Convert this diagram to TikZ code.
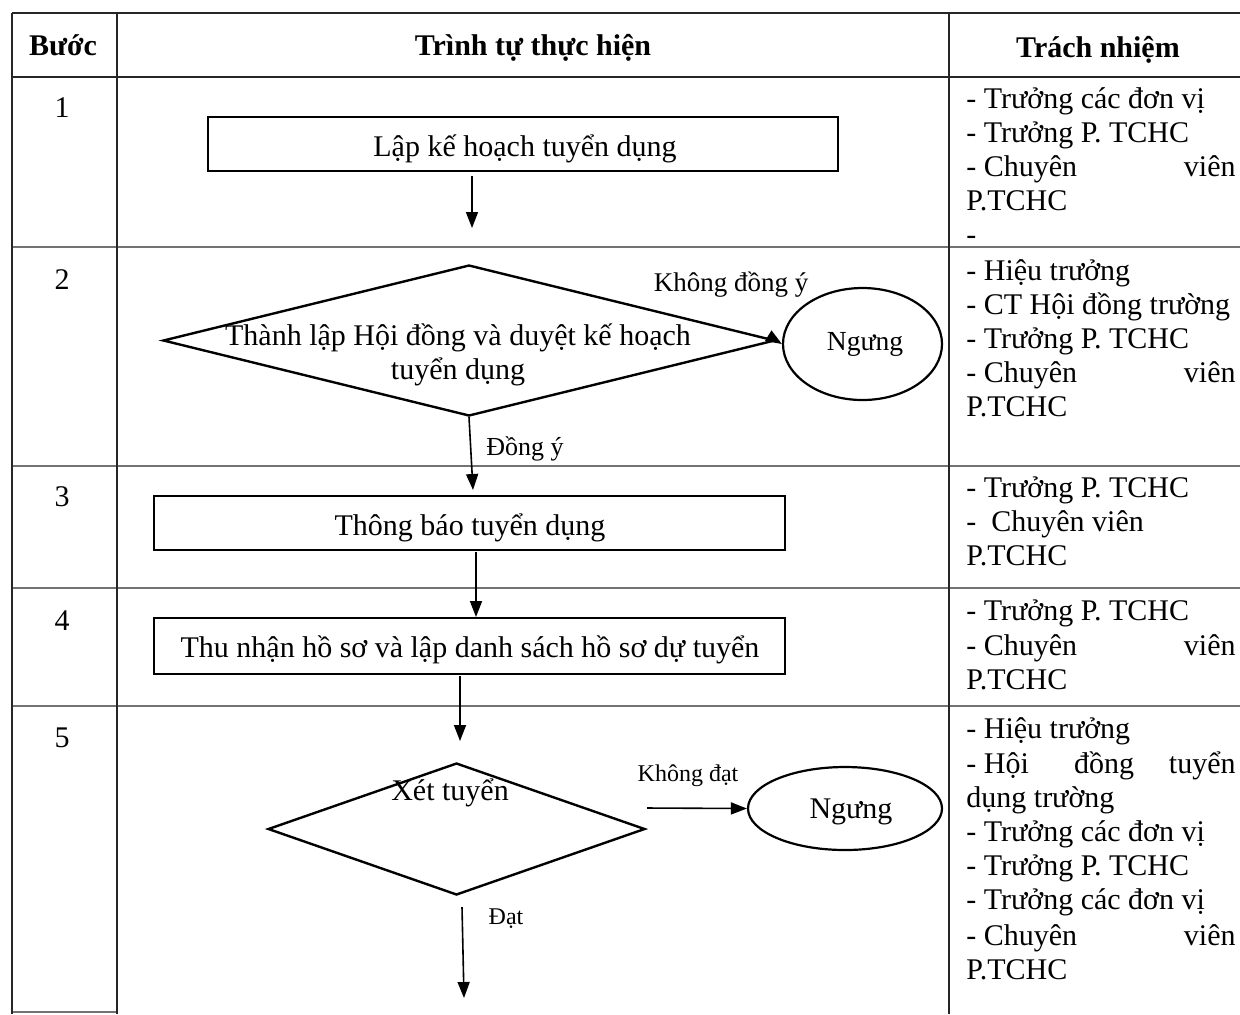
\documentclass[tikz,border=0pt]{standalone}
\usepackage{fontspec}
\setmainfont{Liberation Serif}
\usetikzlibrary{arrows.meta,shapes.geometric}
\begin{document}
\begin{tikzpicture}[x=0.5pt,y=-0.5pt,
  tline/.style={line width=1pt,black!85},
  rline/.style={line width=1pt,black!55},
  procbox/.style={draw,line width=1.4pt,inner sep=0pt},
  dia/.style={draw,diamond,line width=1.2pt,inner sep=0pt},
  stopnode/.style={draw,ellipse,line width=1.1pt,inner sep=0pt},
  arr/.style={-{Triangle[length=8pt,width=6pt]},line width=0.8pt},
  mtext/.style={inner sep=0pt,font=\fontsize{15}{17}\selectfont},
  btext/.style={anchor=base,inner sep=0pt,font=\fontsize{15}{17}\selectfont},
  hdr/.style={anchor=base,inner sep=0pt,font=\fontsize{15}{17}\selectfont\bfseries},
  lbl/.style={anchor=base,inner sep=0pt,font=\fontsize{13.5}{16}\selectfont},
  slbl/.style={anchor=base,inner sep=0pt,font=\fontsize{12}{14}\selectfont},
  resp/.style={anchor=base west,inner sep=0pt,font=\fontsize{15}{17}\selectfont},
  respr/.style={anchor=base east,inner sep=0pt,font=\fontsize{15}{17}\selectfont},
  respc/.style={anchor=base,inner sep=0pt,font=\fontsize{15}{17}\selectfont}
]
\useasboundingbox (0,0) rectangle (1240,1014);
\fill[white] (0,0) rectangle (1240,1014);

% table
\draw[tline] (12,13) -- (1240,13);
\draw[tline] (12,77) -- (1240,77);
\draw[rline] (12,247) -- (1240,247);
\draw[rline] (12,466) -- (1240,466);
\draw[rline] (12,588) -- (1240,588);
\draw[rline] (12,706) -- (1240,706);
\draw[rline] (12,1012) -- (117,1012);
\draw[tline] (12,13) -- (12,1014);
\draw[tline] (117,13) -- (117,1014);
\draw[tline] (949,13) -- (949,1014);

% header
\node[hdr] (h1) at (63,55) {Bước};
\node[hdr] (h2) at (533,55) {Trình tự thực hiện};
\node[hdr] (h3) at (1098,57) {Trách nhiệm};

% step numbers
\node[mtext] (n1) at (62,108) {1};
\node[mtext] (n2) at (62,280) {2};
\node[mtext] (n3) at (62,497) {3};
\node[mtext] (n4) at (62,621) {4};
\node[mtext] (n5) at (62,738) {5};

% step 1
\node[procbox,minimum width=315pt,minimum height=27pt] (box1) at (523,144) {};
\node[btext] (box1t) at (525,156) {Lập kế hoạch tuyển dụng};
\coordinate (a1s) at (472,176);
\coordinate (a1e) at (472,228);
\draw[arr] (a1s) -- (a1e);

% step 2
\node[dia,minimum width=306pt,minimum height=75.5pt] (d2) at (469,340.5) {};
\node[btext] (d2t1) at (458,345) {Thành lập Hội đồng và duyệt kế hoạch};
\node[btext] (d2t2) at (458,379) {tuyển dụng};
\node[stopnode,minimum width=79.5pt,minimum height=56pt] (e2) at (862.5,344) {};
\node[lbl,font=\fontsize{13.8}{16}\selectfont] (e2t) at (865,350) {Ngưng};
\draw[arr] (d2.east) -- (e2.west);
\node[lbl] (l2a) at (731,291) {Không đồng ý};
\coordinate (a2e) at (473,490);
\draw[arr] (d2.south) -- (a2e);
\node[lbl,font=\fontsize{13}{15}\selectfont] (l2b) at (525,455) {Đồng ý};

% step 3
\node[procbox,minimum width=315.5pt,minimum height=27pt] (box3) at (469.5,523) {};
\node[btext] (box3t) at (470,535) {Thông báo tuyển dụng};
\coordinate (a3s) at (476,552);
\coordinate (a3e) at (476,617);
\draw[arr] (a3s) -- (a3e);

% step 4
\node[procbox,minimum width=315.5pt,minimum height=28pt] (box4) at (469.5,646) {};
\node[btext] (box4t) at (470,657) {Thu nhận hồ sơ và lập danh sách hồ sơ dự tuyển};
\coordinate (a4s) at (460,676);
\coordinate (a4e) at (460,741);
\draw[arr] (a4s) -- (a4e);

% step 5
\node[dia,minimum width=188.5pt,minimum height=66pt] (d5) at (456.5,829) {};
\node[btext] (d5t) at (450,800) {Xét tuyển};
\node[stopnode,minimum width=97pt,minimum height=41.5pt] (e5) at (845,808.5) {};
\node[btext] (e5t) at (851,818) {Ngưng};
\coordinate (a5s) at (647,808);
\draw[arr] (a5s) -- (e5.west);
\node[slbl] (l5a) at (688,781) {Không đạt};
\coordinate (a6s) at (462,907);
\coordinate (a6e) at (464,998);
\draw[arr] (a6s) -- (a6e);
\node[slbl] (l5b) at (506,924) {Đạt};

% responsibilities
\node[resp] (r11) at (966,108) {- Trưởng các đơn vị};
\node[resp] (r12) at (966,142) {- Trưởng P. TCHC};
\node[resp] (r13) at (966,176) {- Chuyên};
\node[respr] (r13b) at (1236,176) {viên};
\node[resp] (r14) at (966,210) {P.TCHC};
\node[resp] (r15) at (966,244) {-};

\node[resp] (r21) at (966,280) {- Hiệu trưởng};
\node[resp] (r22) at (966,314) {- CT Hội đồng trường};
\node[resp] (r23) at (966,348) {- Trưởng P. TCHC};
\node[resp] (r24) at (966,382) {- Chuyên};
\node[respr] (r24b) at (1236,382) {viên};
\node[resp] (r25) at (966,416) {P.TCHC};

\node[resp] (r31) at (966,497) {- Trưởng P. TCHC};
\node[resp] (r32) at (966,531) {-\ \ Chuyên viên};
\node[resp] (r33) at (966,565) {P.TCHC};

\node[resp] (r41) at (966,620) {- Trưởng P. TCHC};
\node[resp] (r42) at (966,655) {- Chuyên};
\node[respr] (r42b) at (1236,655) {viên};
\node[resp] (r43) at (966,689) {P.TCHC};

\node[resp] (r51) at (966,738) {- Hiệu trưởng};
\node[resp] (r52) at (966,773) {- Hội};
\node[respc] (r52b) at (1104,773) {đồng};
\node[respr] (r52c) at (1236,773) {tuyển};
\node[resp] (r53) at (966,807) {dụng trường};
\node[resp] (r54) at (966,841) {- Trưởng các đơn vị};
\node[resp] (r55) at (966,875) {- Trưởng P. TCHC};
\node[resp] (r56) at (966,909) {- Trưởng các đơn vị};
\node[resp] (r57) at (966,945) {- Chuyên};
\node[respr] (r57b) at (1236,945) {viên};
\node[resp] (r58) at (966,979) {P.TCHC};
\end{tikzpicture}
\end{document}
